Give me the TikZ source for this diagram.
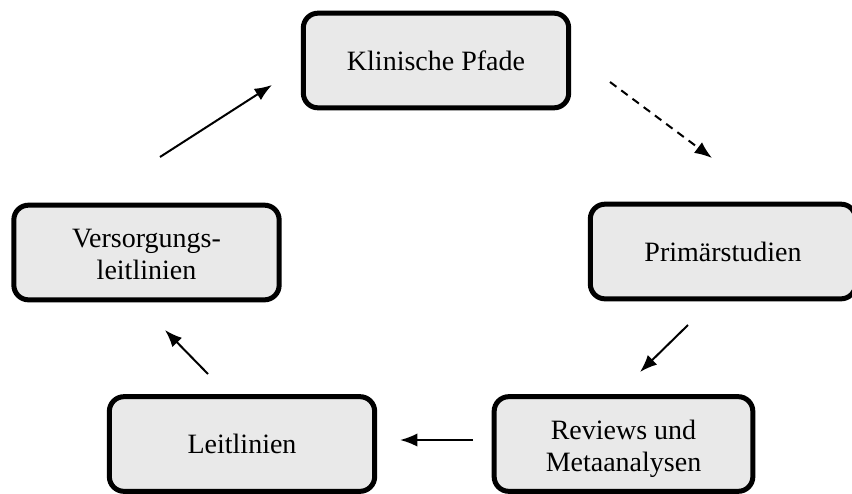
\documentclass[tikz,border=0pt]{standalone}
\usepackage{fontspec}
\setmainfont{Liberation Serif}
\usetikzlibrary{arrows.meta}
\definecolor{boxgray}{RGB}{233,233,233}
\newcommand{\twolines}[2]{\begin{tabular}{@{}c@{}}\rule{0pt}{24pt}#1\\#2\end{tabular}}

\tikzset{every picture/.style={line width=0.75pt}}
\tikzset{
  stage/.style={draw, line width=3.75pt, rounded corners=11pt, fill=boxgray,
    minimum width=199pt, minimum height=71pt, align=center, inner sep=0.75pt,
    font=\fontsize{21}{24}\selectfont},
  flow/.style={line width=1.5pt, -{Latex[length=13pt,width=10pt]}},
}

\begin{document}
\begin{tikzpicture}[x=0.75pt,y=0.75pt,yscale=-1,xscale=1]
    \useasboundingbox (0,0) rectangle (852,493);

    %Shape: Rounded Rect [id:klinik]
    \node[stage] (klinik) at (436,60.5) {Klinische Pfade};
    %Shape: Rounded Rect [id:primaer]
    \node[stage] (primaer) at (723,251.5) {Primärstudien};
    %Shape: Rounded Rect [id:reviews]
    \node[stage, minimum width=194pt] (reviews) at (623.5,444) {\twolines{Reviews und}{Metaanalysen}};
    %Shape: Rounded Rect [id:leit]
    \node[stage] (leit) at (242,444) {Leitlinien};
    %Shape: Rounded Rect [id:versorg]
    \node[stage] (versorg) at (146.5,252.5) {\twolines{Versorgungs-}{leitlinien}};

    % Arrow ends
    \coordinate (versorgOut) at (160,157);
    \coordinate (klinikIn) at (272,85);
    \coordinate (klinikOut) at (610,82);
    \coordinate (primaerIn) at (712,158);
    \coordinate (primaerOut) at (688,325);
    \coordinate (reviewsIn) at (640,372);
    \coordinate (reviewsOut) at (473,440);
    \coordinate (leitIn) at (400,440);
    \coordinate (leitOut) at (208,374);
    \coordinate (versorgIn) at (165,330);

    % Straight Lines
    \draw[flow] (versorgOut) -- (klinikIn);
    \draw[flow, dash pattern=on 6pt off 4.5pt] (klinikOut) -- (primaerIn);
    \draw[flow] (primaerOut) -- (reviewsIn);
    \draw[flow] (reviewsOut) -- (leitIn);
    \draw[flow] (leitOut) -- (versorgIn);

\end{tikzpicture}
\end{document}
